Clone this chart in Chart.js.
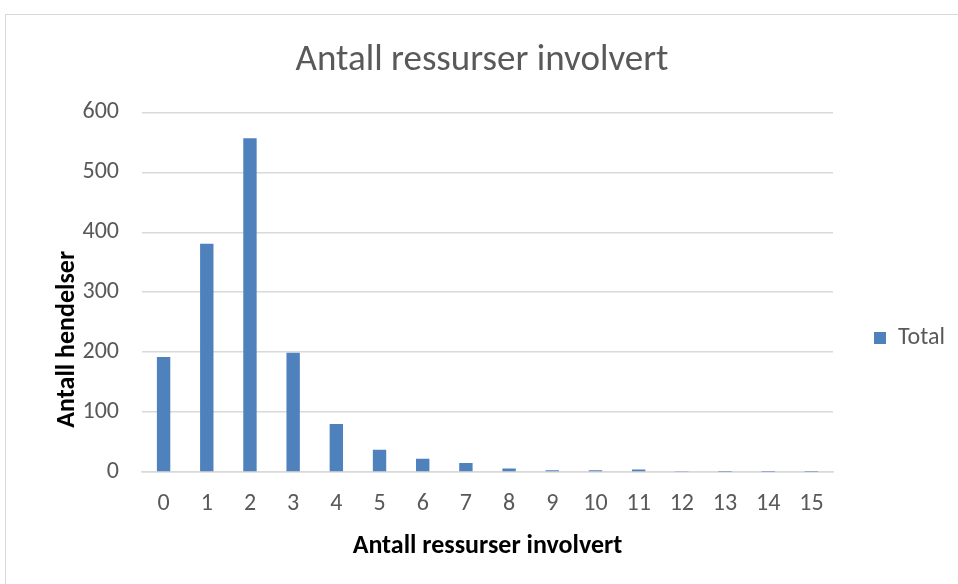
<!DOCTYPE html>
<html>
<head>
<meta charset="utf-8">
<script src="https://cdn.jsdelivr.net/npm/chart.js@4.4.1/dist/chart.umd.min.js"></script>
<style>
  html, body { margin: 0; padding: 0; background: #fff; overflow: hidden; }
  #frame {
    position: absolute; left: 5px; top: 14px;
    width: 960px; height: 580px;
    border-left: 1px solid #d9d9d9; border-top: 1px solid #d9d9d9;
  }
  #wrap { position: absolute; left: 0; top: 0; width: 952px; height: 569px; }
</style>
</head>
<body>
<div id="frame"><div id="wrap"><canvas id="ressurser"></canvas></div></div>
<script>
// antall ressurser per hendelse
var kategorier = ['0', '1', '2', '3', '4', '5', '6', '7', '8', '9', '10', '11', '12', '13', '14', '15'];
var total = [192, 381, 557, 199, 80, 37, 22, 15, 6, 3, 3, 4, 1, 0.5, 0.5, 0.5];
var yTicks = [0, 100, 200, 300, 400, 500, 600];

var grey = '#595959';
var font = "Calibri, Carlito, Lato, sans-serif";

// legenden til høyre, litt lavere enn midten (som i Excel)
var legendPlassering = {
    id: 'legendPlassering',
    beforeLayout: function (chart) {
        var lg = chart.legend;
        if (lg && !lg._fast) {
            var fit = lg.fit;
            lg.fit = function () { fit.call(this); this.width = 125; };
            lg._fast = true;
        }
    },
    afterLayout: function (chart) {
        var lg = chart.legend;
        var h = lg.bottom - lg.top;
        lg.left = 858;
        lg.right = lg.left + 125;
        lg.top = 301;
        lg.bottom = lg.top + h;
    },
};

var data = {
    labels: kategorier,
    datasets: [
        {
            label: 'Total',
            data: total,
            backgroundColor: '#4f81bd',
            borderWidth: 0,
            categoryPercentage: 1,
            barPercentage: 0.31,
        },
    ],
};

var config = {
    type: 'bar',
    data: data,
    options: {
        responsive: true,
        maintainAspectRatio: false,
        animation: false,
        layout: {
            padding: 0,
        },
        plugins: {
            title: {
                display: true,
                text: 'Antall ressurser involvert',
                color: grey,
                font: { family: font, size: 37, weight: 'normal' },
                padding: { top: 24, bottom: 29 },
            },
            legend: {
                position: 'right',
                align: 'start',
                labels: {
                    color: grey,
                    boxWidth: 12,
                    boxHeight: 12,
                    padding: 10,
                    font: { family: font, size: 24 },
                },
            },
            tooltip: { enabled: false },
        },
        scales: {
            x: {
                afterFit: function (axis) { axis.height = 112; },
                grid: { display: false, drawTicks: false },
                border: { color: '#d9d9d9', width: 1.5 },
                ticks: {
                    color: grey,
                    padding: 18,
                    font: { family: font, size: 24 },
                },
                title: {
                    display: true,
                    text: 'Antall ressurser involvert',
                    color: '#000',
                    font: { family: font, size: 26, weight: 'bold' },
                    padding: { top: 22, bottom: 22 },
                },
            },
            y: {
                min: 0,
                max: 600,
                afterBuildTicks: function (axis) {
                    axis.ticks = yTicks.map(function (v) { return { value: v }; });
                },
                afterFit: function (axis) { axis.width = 136; },
                grid: { color: '#d9d9d9', lineWidth: 1.5, drawTicks: false },
                border: { display: false },
                ticks: {
                    color: grey,
                    padding: 23,
                    font: { family: font, size: 24 },
                },
                title: {
                    display: true,
                    // mellomrom til slutt skyver teksten litt ned, slik som i Excel
                    text: 'Antall hendelser                ',
                    color: '#000',
                    font: { family: font, size: 26, weight: 'bold' },
                    padding: { top: 46, bottom: 46 },
                },
            },
        },
    },
    plugins: [legendPlassering],
};

var myChart = new Chart(document.getElementById('ressurser'), config);
</script>
</body>
</html>
